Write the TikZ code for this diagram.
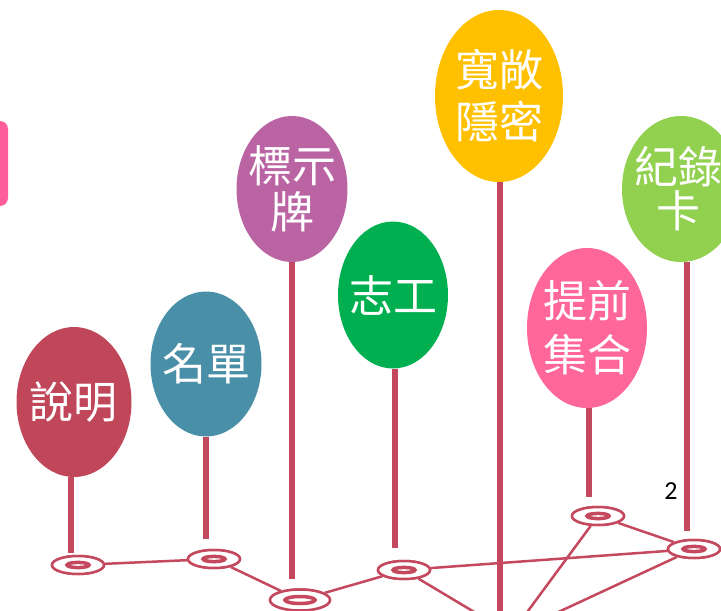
\documentclass[tikz,border=0pt]{standalone}
\usepackage{fontspec}
\newfontfamily\cjk{Noto Sans CJK TC}
\newfontfamily\pagefont{Carlito}
\usetikzlibrary{shapes.geometric}

\definecolor{stemred}{RGB}{196,72,94}
\definecolor{cRed}{RGB}{192,70,90}
\definecolor{cTeal}{RGB}{74,143,168}
\definecolor{cPurple}{RGB}{187,100,164}
\definecolor{cGreen}{RGB}{0,176,80}
\definecolor{cYellow}{RGB}{255,192,0}
\definecolor{cPink}{RGB}{255,102,153}
\definecolor{cLime}{RGB}{146,208,80}
\definecolor{cTab}{RGB}{255,92,154}

\tikzset{
  balloon/.style={ellipse, inner sep=0pt},
  btext/.style={text=white, align=center, inner sep=0pt,
    font=\cjk\fontsize{44}{#1}\selectfont},
  btext/.default=48,
  stem/.style={stemred, line width=5.5pt},
  ring/.style={ellipse, draw=stemred, line width=2.5pt, fill=white, inner sep=0pt},
  core/.style={stemred, line width=3.5pt},
  link/.style={stemred, line width=2.5pt},
}

\begin{document}
\begin{tikzpicture}[x=1pt,y=-1pt]
\useasboundingbox (0,0) rectangle (721,611);
\clip (0,0) rectangle (721,611);

% Tab at the left edge
\fill[cTab, rounded corners=8pt] (-20,121) rectangle (8,206);

% Rings at the bottom
\foreach \n/\x/\y/\w/\h/\a/\b in {1/78/565/52/18/11/2.6, 2/214/559/52/18/11/2.6,
    3/300/600/60/21/15/3.5, 4/404/570/52/18/11/2.6, 5/598/516/52/18/11/2.6,
    6/694/549/52/18/11/2.6} {
  \node[ring, minimum width=\w, minimum height=\h] (r\n) at (\x,\y) {};
}
\coordinate (hub) at (511,634);

% Links between the rings
\draw[link] (r1) -- (r2);
\draw[link] (r2) -- (r3);
\draw[link] (r3) -- (r4);
\draw[link] (r4) -- (r6);
\draw[link] (r5) -- (r6);
\draw[link] (r4) -- (hub);
\draw[link] (r5) -- (hub);
\draw[link] (r6) -- (hub);

% Rings again, over the links
\foreach \n/\x/\y/\w/\h/\a/\b in {1/78/565/52/18/11/2.6, 2/214/559/52/18/11/2.6,
    3/300/600/60/21/15/3.5, 4/404/570/52/18/11/2.6, 5/598/516/52/18/11/2.6,
    6/694/549/52/18/11/2.6} {
  \node[ring, minimum width=\w, minimum height=\h] at (\x,\y) {};
  \draw[core] (r\n.center) ellipse (\a pt and \b pt);
}

% Balloons
\node[balloon, fill=cRed, minimum width=115, minimum height=150,
  label={[btext]center:說明}] (b1) at (74,402) {};
\node[balloon, fill=cTeal, minimum width=111, minimum height=145,
  label={[btext]center:名單}] (b2) at (206,364) {};
\node[balloon, fill=cPurple, minimum width=111, minimum height=146,
  label={[btext=46]center:{標示\\牌}}] (b3) at (292,189) {};
\node[balloon, fill=cGreen, minimum width=110, minimum height=147,
  label={[btext]center:志工}] (b4) at (393,295) {};
\node[balloon, fill=cYellow, minimum width=128, minimum height=172,
  label={[btext=52]center:{寬敞\\隱密}}] (b5) at (499,96) {};
\node[balloon, fill=cPink, minimum width=120, minimum height=160,
  label={[btext=54]center:{提前\\集合}}] (b6) at (587,328) {};
\node[balloon, fill=cLime, minimum width=118, minimum height=146,
  label={[btext=44, xshift=-3pt]center:{紀錄\\卡}}] (b7) at (681,189) {};

% Stems
\foreach \n/\x/\y in {1/71/553, 2/206/539, 3/292/579, 4/395/548, 5/500/626, 6/589/497, 7/687/531} {
  \coordinate (s\n) at (\x,\y);
  \draw[stem] (b\n.south -| s\n) -- (s\n);
}

% Page number
\node[font=\pagefont\fontsize{26}{26}\selectfont] (page) at (671,491) {2};
\end{tikzpicture}
\end{document}
